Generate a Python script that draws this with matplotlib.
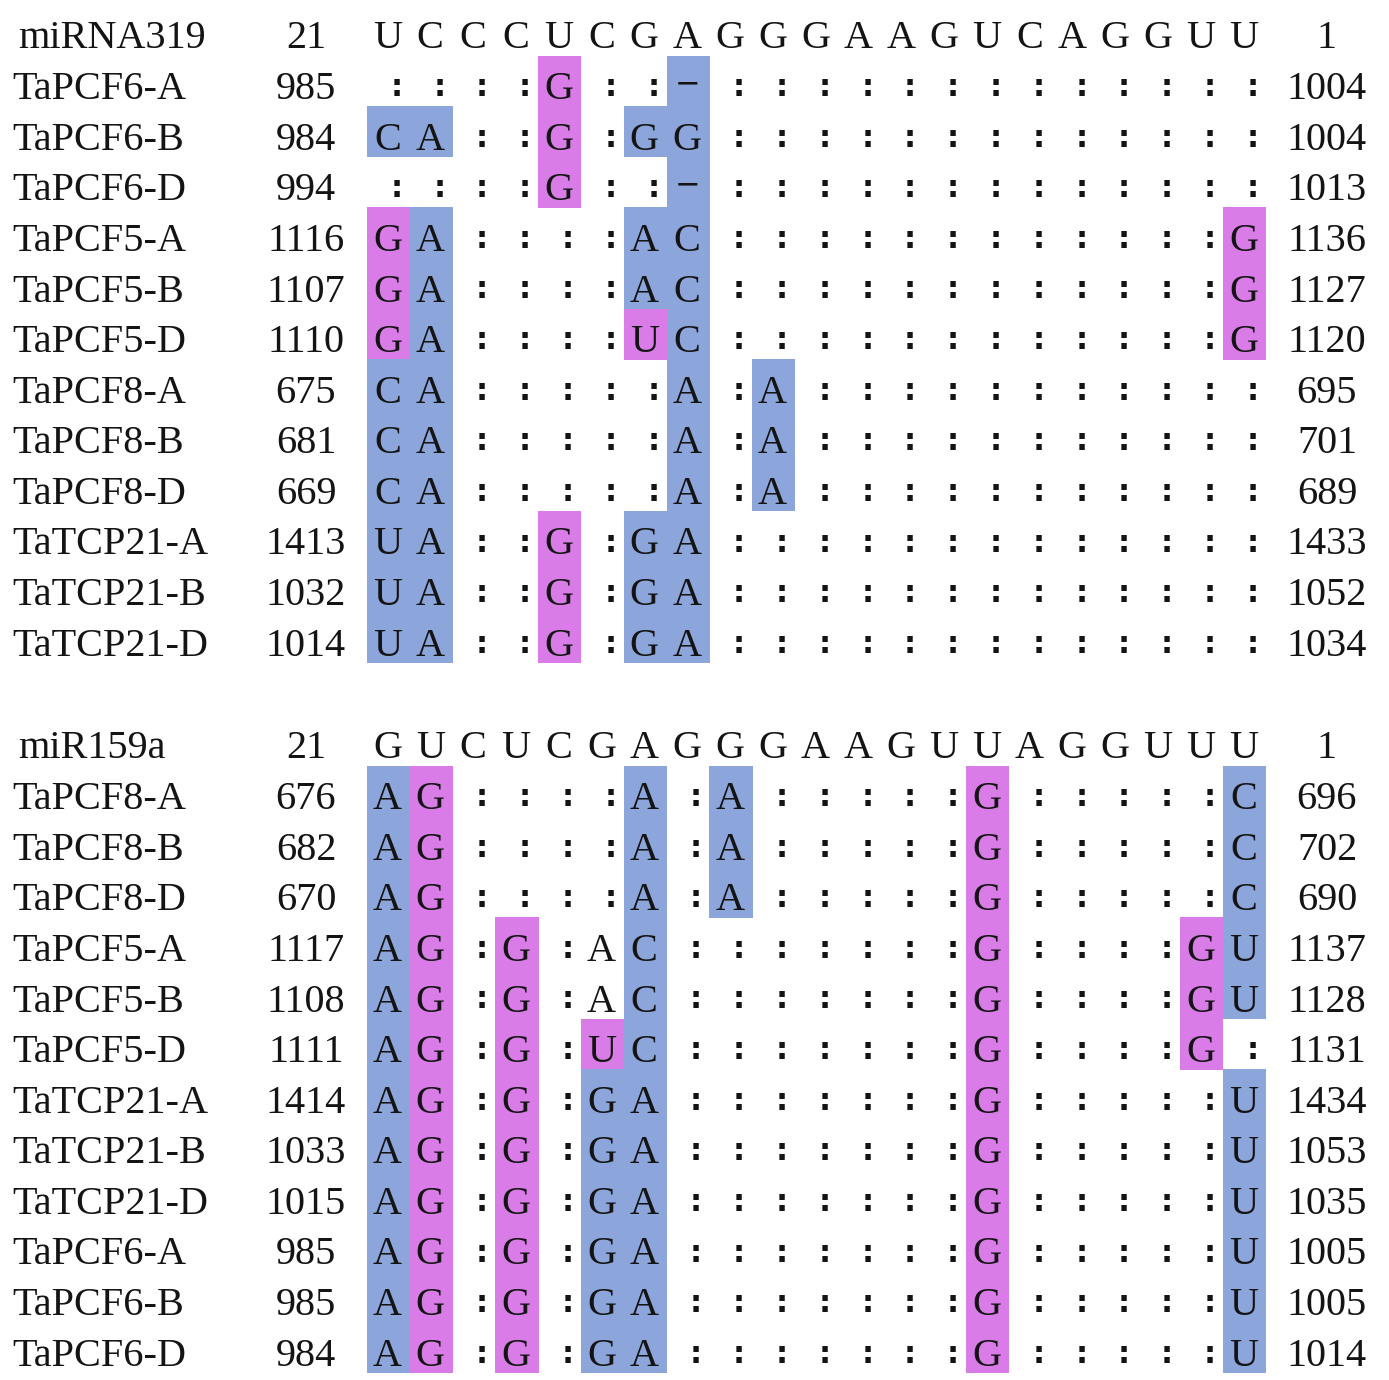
import matplotlib
matplotlib.use("Agg")
import matplotlib.pyplot as plt
from matplotlib.patches import Rectangle

# ---------------- data ----------------
b1_title = "miRNA319"
b1_seq = "UCCCUCGAGGGAAGUCAGGUU"
b1_genes = ["TaPCF6-A", "TaPCF6-B", "TaPCF6-D", "TaPCF5-A", "TaPCF5-B", "TaPCF5-D",
            "TaPCF8-A", "TaPCF8-B", "TaPCF8-D", "TaTCP21-A", "TaTCP21-B", "TaTCP21-D"]
b1_start = [985, 984, 994, 1116, 1107, 1110, 675, 681, 669, 1413, 1032, 1014]
b1_end = [1004, 1004, 1013, 1136, 1127, 1120, 695, 701, 689, 1433, 1052, 1034]
b1_rows = [
    "::::G::-" + ":" * 13,
    "CA::G:GG" + ":" * 13,
    "::::G::-" + ":" * 13,
    "GA::::AC" + ":" * 12 + "G",
    "GA::::AC" + ":" * 12 + "G",
    "GA::::UC" + ":" * 12 + "G",
    "CA:::::A:A" + ":" * 11,
    "CA:::::A:A" + ":" * 11,
    "CA:::::A:A" + ":" * 11,
    "UA::G:GA" + ":" * 13,
    "UA::G:GA" + ":" * 13,
    "UA::G:GA" + ":" * 13,
]
# b = blue highlight, p = pink highlight, . = none
b1_marks = [
    "....p..b" + "." * 13,
    "bb..p.bb" + "." * 13,
    "....p..b" + "." * 13,
    "pb....bb" + "." * 12 + "p",
    "pb....bb" + "." * 12 + "p",
    "pb....pb" + "." * 12 + "p",
    "bb.....b.b" + "." * 11,
    "bb.....b.b" + "." * 11,
    "bb.....b.b" + "." * 11,
    "bb..p.bb" + "." * 13,
    "bb..p.bb" + "." * 13,
    "bb..p.bb" + "." * 13,
]

b2_title = "miR159a"
b2_seq = "GUCUCGAGGGAAGUUAGGUUU"
b2_genes = ["TaPCF8-A", "TaPCF8-B", "TaPCF8-D", "TaPCF5-A", "TaPCF5-B", "TaPCF5-D",
            "TaTCP21-A", "TaTCP21-B", "TaTCP21-D", "TaPCF6-A", "TaPCF6-B", "TaPCF6-D"]
b2_start = [676, 682, 670, 1117, 1108, 1111, 1414, 1033, 1015, 985, 985, 984]
b2_end = [696, 702, 690, 1137, 1128, 1131, 1434, 1053, 1035, 1005, 1005, 1014]
b2_rows = [
    "AG::::A:A" + ":" * 5 + "G" + ":" * 5 + "C",
    "AG::::A:A" + ":" * 5 + "G" + ":" * 5 + "C",
    "AG::::A:A" + ":" * 5 + "G" + ":" * 5 + "C",
    "AG:G:AC" + ":" * 7 + "G" + ":" * 4 + "GU",
    "AG:G:AC" + ":" * 7 + "G" + ":" * 4 + "GU",
    "AG:G:UC" + ":" * 7 + "G" + ":" * 4 + "G:",
    "AG:G:GA" + ":" * 7 + "G" + ":" * 5 + "U",
    "AG:G:GA" + ":" * 7 + "G" + ":" * 5 + "U",
    "AG:G:GA" + ":" * 7 + "G" + ":" * 5 + "U",
    "AG:G:GA" + ":" * 7 + "G" + ":" * 5 + "U",
    "AG:G:GA" + ":" * 7 + "G" + ":" * 5 + "U",
    "AG:G:GA" + ":" * 7 + "G" + ":" * 5 + "U",
]
b2_marks = [
    "bp....b.b" + "." * 5 + "p" + "." * 5 + "b",
    "bp....b.b" + "." * 5 + "p" + "." * 5 + "b",
    "bp....b.b" + "." * 5 + "p" + "." * 5 + "b",
    "bp.p..b" + "." * 7 + "p" + "." * 4 + "pb",
    "bp.p..b" + "." * 7 + "p" + "." * 4 + "pb",
    "bp.p.pb" + "." * 7 + "p" + "." * 4 + "p.",
    "bp.p.bb" + "." * 7 + "p" + "." * 5 + "b",
    "bp.p.bb" + "." * 7 + "p" + "." * 5 + "b",
    "bp.p.bb" + "." * 7 + "p" + "." * 5 + "b",
    "bp.p.bb" + "." * 7 + "p" + "." * 5 + "b",
    "bp.p.bb" + "." * 7 + "p" + "." * 5 + "b",
    "bp.p.bb" + "." * 7 + "p" + "." * 5 + "b",
]
seq_start_label = "21"
seq_end_label = "1"

# ---------------- style / layout ----------------
W, H = 1389, 1380
BLUE = "#8ca6dc"
PINK = "#d97ce8"
FONT = "Liberation Serif"
FS = 29
INK = "#141414"

fig = plt.figure(figsize=(W / 100, H / 100), dpi=100)
ax = fig.add_axes([0, 0, 1, 1])
ax.set_xlim(0, W)
ax.set_ylim(H, 0)
ax.axis("off")

X0 = 367.0       # left edge of first cell
CW = 42.8        # cell width
RH = 50.6        # row pitch
NAME_X = 12
START_X = 306
END_X = 1327


def txt(x, y, s, ha="center"):
    # y = visual centre of capitals
    ax.text(x, y + 13.5, s, ha=ha, va="baseline", fontsize=FS, family=FONT, color=INK)


def colon(x, y):
    ax.text(x, y + 10.5, ":", ha="center", va="baseline", fontsize=22,
            fontweight="bold", family="DejaVu Sans", color=INK)


def dash(x, y):
    ax.text(x, y + 7, "\u2212", ha="center", va="baseline", fontsize=22,
            family="DejaVu Sans", color=INK)


def block(y_head, title, seq, genes, starts, ends, rows, marks):
    txt(NAME_X + 6, y_head, title, ha="left")
    txt(START_X, y_head, seq_start_label)
    txt(END_X, y_head, seq_end_label)
    for i, ch in enumerate(seq):
        txt(X0 + CW * (i + 0.5) - 1, y_head, ch)
    for r, (g, s0, s1, row, mk) in enumerate(zip(genes, starts, ends, rows, marks)):
        y = y_head + RH * (r + 1)
        for i, m in enumerate(mk):
            if m in "bp":
                ax.add_patch(Rectangle((X0 + CW * i, y - 30), CW + 0.4, RH + 0.4,
                                       facecolor=BLUE if m == "b" else PINK,
                                       edgecolor="none", zorder=1))
        txt(NAME_X, y, g, ha="left")
        txt(START_X, y, str(s0))
        txt(END_X, y, str(s1))
        for i, ch in enumerate(row):
            xc = X0 + CW * (i + 0.5)
            if ch == ":":
                colon(xc + 8, y)
            elif ch == "-":
                dash(xc, y)
            else:
                txt(xc - 1, y, ch)


block(35, b1_title, b1_seq, b1_genes, b1_start, b1_end, b1_rows, b1_marks)
block(745, b2_title, b2_seq, b2_genes, b2_start, b2_end, b2_rows, b2_marks)

fig.savefig("out.png", dpi=100, facecolor="white")
